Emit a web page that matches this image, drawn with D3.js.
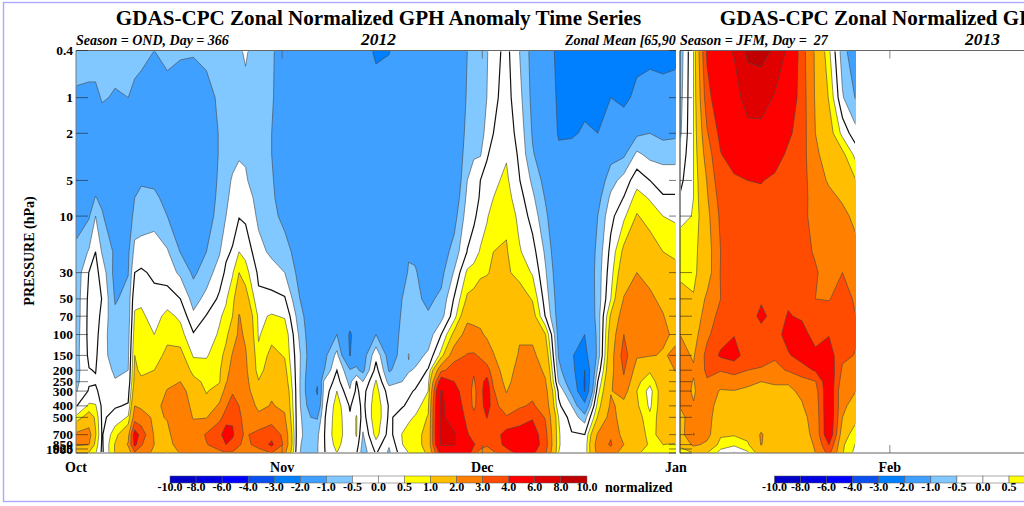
<!DOCTYPE html>
<html>
<head>
  <meta charset="utf-8">
  <script src="https://d3js.org/d3.v7.min.js"></script>
  <style>
    html, body { margin: 0; padding: 0; background: #fff; overflow: hidden; }
    svg { display: block; }
    text { font-family: "Liberation Serif", serif; font-weight: bold; fill: #000; }
  </style>
</head>
<body>
<script>
// pressure levels of each data column, bottom to top (hPa)
var pressureLevels = [1000,850,700,500,400,300,250,200,150,100,70,50,30,20,10,7,5,3,2,1,0.4];
var pressureTicks = [0.4,1,2,5,10,30,50,70,100,150,200,250,300,400,500,700,850,925,1000];

var contourLevels = [-10,-8,-6,-4,-3,-2,-1,-0.5,0,0.5,1,2,3,4,6,8,10];
var levelLabels = ["-10.0","-8.0","-6.0","-4.0","-3.0","-2.0","-1.0","-0.5","0.0","0.5","1.0","2.0","3.0","4.0","6.0","8.0","10.0"];
var bandColors = ["#0000c8","#0000e0","#0000ff","#0a50f0","#0080ff","#40a0ff","#80c8ff","#ffffff","#ffffff","#ffff00","#ffbf00","#ff8000","#ff4c00","#ff0000","#e00000","#c00000"];

// days since 1 Oct 2012
var daysOND = [0,2,3,4,6,8,9,10,12,14,16,18,20,22,23,24,25,26,28,30,32,34,36,37,38,40,42,43,44,46,48,50,51,52,54,56,58,60,61,62,63,64,66,68,70,72,74,76,78,80,82,84,86,88,90,92];
var valuesOND = [
  [1.2,2.1,2.2,0.6,-0.05,-0.55,-0.65,-0.7,-0.7,-0.75,-0.8,-0.8,-0.85,-0.9,-1.2,-1.4,-2.05,-1.6,-1.5,-1.1,-0.7],
  [0.9,2.0,2.4,1.4,0.6,0.05,-0.05,-0.02,0.1,0.15,0.15,0.12,0.02,-0.45,-1.05,-1.2,-1.3,-1.5,-1.5,-1.2,-0.6],
  [0.55,0.8,1.05,0.9,0.55,0.1,-0.05,0.02,0.1,0.2,0.25,0.25,0.15,0.0,-0.5,-0.98,-1.2,-1.45,-1.45,-1.15,-0.7],
  [-0.1,-0.08,-0.05,-0.1,-0.1,-0.2,-0.3,-0.35,-0.35,-0.3,-0.15,-0.02,-0.2,-0.55,-0.95,-1.1,-1.2,-1.4,-1.3,-0.95,-0.7],
  [1.05,1.05,0.8,0.2,-0.05,-0.4,-0.48,-0.55,-0.7,-0.8,-0.9,-1.05,-1.2,-1.1,-1.4,-1.5,-1.5,-1.5,-1.4,-1.05,-0.8],
  [1.4,2.1,1.7,0.55,0.05,-0.2,-0.4,-0.5,-0.6,-0.7,-0.8,-0.85,-1.02,-1.1,-1.4,-1.5,-1.6,-1.5,-1.4,-1.0,-0.8],
  [2.8,4.3,4.6,2.5,2.0,1.45,1.2,1.1,1.0,0.75,0.55,0.4,0.0,-0.35,-0.8,-1.0,-1.4,-1.5,-1.5,-1.1,-0.85],
  [2.5,3.1,3.6,2.4,1.85,1.4,1.1,0.9,0.98,0.8,0.6,0.4,0.08,-0.3,-0.75,-0.9,-1.05,-1.5,-1.5,-1.2,-0.85],
  [1.8,2.0,1.9,1.85,1.7,1.45,1.2,1.0,0.75,0.5,0.3,0.15,-0.1,-0.3,-0.65,-0.9,-1.1,-1.5,-1.6,-1.4,-1.0],
  [0.9,1.6,1.8,2.05,2.3,2.05,1.8,1.5,1.15,0.85,0.65,0.25,-0.25,-0.45,-1.0,-1.15,-1.3,-1.5,-1.5,-1.2,-0.85],
  [2.1,2.5,2.6,2.6,2.5,2.4,2.0,1.6,1.2,0.7,0.4,0.0,-0.6,-1.02,-1.2,-1.3,-1.4,-1.5,-1.5,-1.2,-0.95],
  [2.2,2.5,2.4,1.95,1.8,1.5,1.2,0.8,0.45,0.05,-0.4,-0.7,-1.1,-1.2,-1.35,-1.45,-1.5,-1.6,-1.6,-1.3,-0.95],
  [2.5,2.95,3.1,1.95,1.2,0.95,0.85,0.7,0.45,0.3,0.03,-0.35,-0.75,-1.0,-1.25,-1.35,-1.4,-1.45,-1.45,-1.2,-0.85],
  [2.8,3.4,3.6,2.8,2.2,1.3,0.95,0.9,0.8,0.55,0.45,0.1,-0.25,-0.55,-0.8,-0.85,-0.9,-0.95,-0.95,-0.9,-0.7],
  [2.9,4.0,4.9,3.3,2.9,2.4,1.9,1.6,1.2,0.85,0.6,0.45,0.1,-0.1,-0.5,-0.6,-0.65,-0.8,-0.85,-0.8,-0.65],
  [2.9,3.6,4.2,3.8,3.4,2.9,2.6,2.4,2.1,1.4,1.0,0.8,0.45,0.05,-0.25,-0.35,-0.45,-0.65,-0.75,-0.7,-0.6],
  [2.6,3.1,3.2,3.1,3.0,2.75,2.55,2.4,2.3,2.2,2.05,1.6,1.0,0.5,-0.03,-0.2,-0.35,-0.55,-0.7,-0.65,-0.55],
  [2.2,2.7,2.9,2.8,2.6,2.4,2.3,2.2,2.1,1.85,1.7,1.3,0.7,0.35,-0.1,-0.3,-0.45,-0.55,-0.65,-0.6,-0.45],
  [2.5,3.4,3.3,2.2,1.8,1.3,1.05,0.7,0.6,0.45,0.4,0.1,-0.1,-0.35,-0.6,-0.65,-0.75,-0.8,-0.85,-0.8,-0.7],
  [3.0,4.2,3.7,2.5,2.05,1.9,1.75,1.5,1.2,0.8,0.55,0.15,-0.3,-0.6,-0.85,-0.9,-0.95,-1.0,-1.0,-0.95,-0.95],
  [2.2,2.8,2.7,2.1,1.85,1.65,1.4,1.2,0.95,0.85,0.45,0.05,-0.5,-0.8,-1.15,-1.3,-1.3,-1.35,-1.35,-1.3,-1.2],
  [-0.4,-0.4,-0.35,-0.3,-0.3,-0.3,-0.3,-0.3,-0.3,-0.45,-0.65,-0.9,-1.1,-1.2,-1.4,-1.45,-1.5,-1.5,-1.5,-1.5,-1.4],
  [-0.95,-0.8,-0.75,-1.0,-1.3,-1.5,-1.5,-1.4,-1.3,-1.35,-1.4,-1.5,-1.6,-1.6,-1.6,-1.55,-1.5,-1.5,-1.5,-1.5,-1.45],
  [-0.55,-0.55,-0.6,-1.05,-1.7,-2.1,-1.9,-1.6,-1.5,-1.45,-1.5,-1.5,-1.6,-1.6,-1.6,-1.6,-1.55,-1.5,-1.5,-1.5,-1.5],
  [-0.05,-0.05,-0.05,-0.1,-0.2,-0.35,-0.45,-1.05,-1.2,-1.2,-1.4,-1.5,-1.6,-1.6,-1.6,-1.6,-1.6,-1.5,-1.5,-1.5,-1.45],
  [0.5,0.7,0.85,0.8,0.75,0.5,0.2,0.0,-0.35,-1.0,-1.4,-1.5,-1.6,-1.6,-1.6,-1.6,-1.6,-1.55,-1.5,-1.5,-1.5],
  [0.0,0.02,0.05,0.05,-0.05,-0.45,-0.65,-0.95,-2.05,-2.1,-1.6,-1.5,-1.55,-1.6,-1.6,-1.6,-1.6,-1.55,-1.5,-1.5,-1.5],
  [0.05,0.3,0.55,0.55,0.25,0.1,0.02,-0.9,-1.3,-1.7,-1.6,-1.55,-1.6,-1.6,-1.6,-1.6,-1.6,-1.55,-1.5,-1.5,-1.5],
  [-0.8,-0.7,-0.55,-0.25,-0.15,-0.2,-0.5,-1.15,-1.3,-1.5,-1.55,-1.55,-1.6,-1.6,-1.6,-1.6,-1.6,-1.55,-1.5,-1.5,-1.5],
  [0.05,0.3,0.7,0.9,0.85,0.7,0.55,0.2,-0.15,-1.0,-1.2,-1.35,-1.5,-1.55,-1.6,-1.6,-1.6,-1.55,-1.5,-1.5,-2.2],
  [-0.6,-0.45,-0.2,-0.1,-0.05,-0.25,-0.7,-1.05,-1.25,-1.3,-1.35,-1.4,-1.5,-1.55,-1.6,-1.6,-1.6,-1.55,-1.5,-1.5,-2.05],
  [0.3,0.48,0.52,0.25,-0.05,-0.3,-0.5,-0.8,-0.85,-0.9,-0.95,-1.0,-1.25,-1.4,-1.6,-1.6,-1.6,-1.55,-1.5,-1.5,-1.5],
  [0.5,0.7,0.7,0.4,0.1,-0.1,-0.3,-0.55,-0.48,-0.75,-0.8,-0.85,-0.95,-1.05,-1.55,-1.6,-1.6,-1.55,-1.5,-1.5,-1.5],
  [0.65,0.8,0.85,0.55,0.25,0.05,-0.2,-0.45,-0.7,-0.8,-0.85,-0.9,-0.95,-1.1,-1.5,-1.6,-1.6,-1.55,-1.5,-1.5,-1.5],
  [1.1,1.2,1.15,1.05,0.85,0.5,0.35,0.05,-0.4,-0.8,-0.95,-1.1,-1.3,-1.4,-1.5,-1.55,-1.6,-1.55,-1.5,-1.5,-1.5],
  [4.5,6.2,6.5,6.4,6.5,6.2,4.8,2.8,0.7,0.0,-0.7,-0.9,-1.15,-1.3,-1.5,-1.55,-1.6,-1.55,-1.5,-1.5,-1.5],
  [4.6,6.1,6.2,5.0,4.6,4.3,4.0,3.4,2.7,1.2,0.3,0.05,-0.45,-0.8,-1.2,-1.4,-1.55,-1.55,-1.5,-1.45,-1.4],
  [4.8,4.9,4.1,3.7,3.6,3.5,3.4,3.3,3.05,2.5,1.7,1.1,0.6,0.02,-0.25,-0.38,-0.5,-0.72,-0.85,-0.95,-1.0],
  [3.3,4.1,3.6,3.3,2.8,2.7,2.9,3.1,3.1,2.3,1.7,1.2,0.7,0.25,-0.1,-0.2,-0.3,-0.55,-0.75,-0.85,-0.9],
  [2.5,3.6,3.4,3.4,3.5,3.6,3.6,3.4,2.9,2.1,1.8,1.5,0.85,0.55,0.2,0.05,0.0,-0.55,-0.75,-0.8,-0.85],
  [2.6,3.1,3.2,4.05,4.6,4.7,4.4,3.4,2.4,1.9,1.6,1.4,0.95,0.7,0.45,0.3,0.15,-0.05,-0.3,-0.5,-0.55],
  [2.8,3.6,3.5,3.3,3.4,3.1,2.8,2.5,2.05,1.7,1.4,1.25,1.1,1.0,0.7,0.5,0.4,0.15,0.0,-0.12,-0.2],
  [3.7,4.2,4.4,3.1,2.4,1.95,1.7,1.5,1.4,1.3,1.2,1.15,1.1,1.05,0.9,0.7,0.6,0.45,0.3,0.2,0.15],
  [4.2,4.9,4.6,3.4,2.9,2.7,2.55,2.4,2.1,1.9,1.65,1.35,0.8,0.55,0.35,0.2,0.02,-0.1,-0.2,-0.35,-0.5],
  [4.2,4.7,4.6,3.9,3.1,2.8,2.6,2.4,2.2,1.8,1.3,0.95,0.45,0.2,-0.2,-0.4,-0.6,-0.95,-1.05,-1.15,-1.2],
  [3.1,3.4,3.3,2.9,2.6,2.3,2.05,1.85,1.5,1.0,-0.05,-0.25,-0.45,-0.6,-0.9,-1.05,-1.2,-1.35,-1.5,-1.6,-1.6],
  [0.5,0.55,0.55,0.5,0.1,-0.1,-0.55,-0.8,-1.05,-1.2,-1.25,-1.3,-1.4,-1.5,-1.55,-1.6,-1.7,-1.9,-2.05,-2.1,-2.2],
  [0.1,0.1,0.05,-0.25,-0.5,-1.15,-1.4,-1.7,-1.95,-1.7,-1.6,-1.6,-1.6,-1.6,-1.65,-1.7,-1.75,-1.85,-2.05,-2.2,-2.4],
  [0.15,0.1,0.0,-0.75,-1.7,-3.05,-3.1,-3.0,-2.3,-2.0,-1.7,-1.65,-1.6,-1.6,-1.6,-1.6,-1.7,-1.85,-1.95,-2.1,-2.5],
  [2.3,2.5,2.1,1.05,0.7,0.3,0.0,-0.4,-0.85,-0.85,-0.8,-0.8,-0.8,-0.85,-1.0,-1.2,-1.4,-1.6,-2.0,-2.2,-2.5],
  [2.6,3.1,2.9,2.4,2.15,1.95,1.85,1.7,1.6,1.4,1.1,0.5,0.3,0.15,-0.15,-0.4,-0.7,-1.2,-1.55,-2.0,-2.4],
  [1.4,2.0,1.6,1.5,1.7,2.4,2.85,3.1,3.4,3.0,2.5,2.05,1.5,1.15,0.4,0.02,-0.3,-1.1,-1.6,-2.15,-2.3],
  [1.1,1.7,1.5,1.3,1.1,1.0,1.15,1.6,2.1,2.5,2.4,2.3,2.0,1.7,1.05,0.7,0.3,-0.4,-1.1,-1.85,-2.2],
  [0.7,0.85,0.75,0.6,0.4,0.3,0.65,1.1,2.05,2.5,2.4,2.15,1.75,1.35,0.75,0.45,0.0,-0.65,-1.0,-1.7,-2.2],
  [0.8,1.0,1.3,1.4,1.4,1.4,1.5,1.6,1.95,2.1,2.05,1.8,1.2,1.0,0.5,0.05,-0.2,-0.7,-1.15,-1.8,-2.2],
  [0.6,0.95,1.3,1.4,1.5,1.6,1.8,2.05,2.1,1.9,1.5,1.4,1.15,0.9,0.4,0.05,-0.2,-0.7,-1.1,-1.7,-2.2]
];

// days since 1 Jan 2013
var daysJFM = [0,2,4,6,8,10,12,14,16,18,20,22,24,26];
var valuesJFM = [
  [0.8,1.1,1.5,1.7,2.05,2.4,2.5,2.4,2.3,2.0,1.5,1.2,0.9,0.7,0.4,0.05,-0.15,-0.4,-0.6,-0.7,-0.8],
  [1.0,2.2,3.05,2.5,2.05,1.9,1.95,2.1,1.9,1.6,1.3,1.05,0.85,0.8,0.52,0.5,0.5,0.5,0.5,0.5,0.5],
  [1.0,1.8,2.3,2.35,2.4,2.6,2.9,3.2,3.3,2.8,2.5,2.2,1.5,1.5,1.7,1.9,2.05,2.5,2.9,3.6,4.2],
  [0.3,0.75,1.1,1.4,1.6,1.9,2.5,3.05,4.15,3.6,3.3,3.0,3.05,3.0,3.2,3.4,3.7,3.95,4.3,4.9,5.6],
  [-0.05,0.6,1.05,1.4,1.6,1.95,2.7,3.2,4.5,3.95,3.8,3.6,3.5,3.5,3.6,3.7,3.8,4.6,5.0,5.5,6.1],
  [0.4,0.9,1.2,1.4,1.5,1.75,2.3,3.0,3.4,3.6,3.6,3.6,3.6,3.6,3.7,3.8,4.0,5.0,5.6,6.5,8.5],
  [1.4,2.05,2.1,1.4,1.4,1.6,2.0,2.95,3.2,3.7,4.2,3.9,3.8,3.7,3.7,3.8,4.05,4.7,5.4,6.9,8.6],
  [1.1,1.2,1.3,1.4,1.5,1.8,2.1,2.7,3.15,3.6,3.7,3.6,3.6,3.6,3.65,3.7,3.8,4.5,5.2,5.8,7.7],
  [1.1,1.15,1.3,1.5,1.6,1.9,2.05,3.1,3.9,4.4,4.05,3.9,3.7,3.6,3.6,3.6,3.65,3.8,4.2,4.9,5.6],
  [1.4,1.5,1.7,1.8,1.95,2.1,2.6,3.6,4.4,4.3,3.9,3.6,3.4,3.3,3.3,3.4,3.4,3.4,3.5,3.5,3.4],
  [2.0,2.1,2.2,2.3,2.4,2.6,2.95,4.1,4.2,3.7,3.4,3.0,3.1,2.9,2.6,2.5,2.4,2.2,2.0,1.9,1.85],
  [3.3,4.0,5.0,5.0,5.0,4.9,4.9,4.8,4.5,3.95,3.4,2.95,2.6,2.5,2.4,2.2,1.9,1.5,1.3,0.95,0.6],
  [1.05,1.1,1.4,2.0,2.15,2.2,2.5,2.85,3.2,3.5,3.6,3.4,3.0,2.5,2.2,1.9,1.6,1.15,0.35,-0.45,-0.75],
  [0.3,0.45,0.6,1.2,1.7,2.0,2.1,2.3,2.95,3.1,3.0,2.85,2.5,2.2,1.8,1.4,1.0,0.3,-0.35,-1.05,-1.5]
];

var monthLabelsOND = ["Oct","Nov","Dec","Jan"];
var monthDaysOND = [0,31.6,62.3,92];
var monthLabelsJFM = ["Feb"];
var monthDaysJFM = [31];

var width = 1024, height = 506;
var yTop = 50.5, yBottom = 453;

var svg = d3.select("body").append("svg")
    .attr("width", width)
    .attr("height", height);

// outer border of the original plot
svg.append("rect")
    .attr("x", 3.5).attr("y", 2.5)
    .attr("width", 1040).attr("height", 499)
    .attr("fill", "#fff")
    .attr("stroke", "#aaaaff")
    .attr("stroke-width", 1.4);

var y = d3.scaleLog().domain([1000, 0.4]).range([yBottom, yTop]);

function drawPanel(name, days, columns, x, frameRight) {
  var nx = days.length, ny = pressureLevels.length;
  var flat = [];
  for (var j = 0; j < ny; j++) {
    for (var i = 0; i < nx; i++) flat.push(columns[i][j]);
  }

  // grid index -> pixel, the grid is not even in either direction
  function gridX(c) {
    var p = Math.max(0, Math.min(nx - 1, c - 0.5)), k = Math.min(nx - 2, Math.floor(p));
    return x(days[k] + (days[k + 1] - days[k]) * (p - k));
  }
  function gridY(c) {
    var p = Math.max(0, Math.min(ny - 1, c - 0.5)), k = Math.min(ny - 2, Math.floor(p));
    return y(pressureLevels[k]) + (y(pressureLevels[k + 1]) - y(pressureLevels[k])) * (p - k);
  }
  var path = d3.geoPath(d3.geoTransform({
    point: function(a, b) { this.stream.point(gridX(a), gridY(b)); }
  }));

  var contours = d3.contours().size([nx, ny]).thresholds(contourLevels.slice(0, -1))(flat);

  var x0 = x.range()[0], x1 = x.range()[1];
  svg.append("clipPath").attr("id", "lines-" + name)
    .append("rect").attr("x", x0 + 1).attr("y", yTop + 1)
    .attr("width", x1 - x0 - 2).attr("height", yBottom - yTop - 2);

  var g = svg.append("g");
  g.selectAll("path.band").data(contours).enter().append("path")
      .attr("class", "band")
      .attr("d", path)
      .attr("fill", function(d, i) { return bandColors[i]; });

  g.append("g").attr("clip-path", "url(#lines-" + name + ")")
    .selectAll("path").data(contours).enter().append("path")
      .attr("d", path)
      .attr("fill", "none")
      .attr("stroke", function(d) { return d.value === 0 ? "#111" : "#444"; })
      .attr("stroke-width", function(d) { return d.value === 0 ? 1.2 : 0.6; });

  // frame and ticks
  svg.append("path")
      .attr("d", "M" + x0 + "," + yTop + "H" + frameRight + "M" + x0 + "," + yBottom + "H" + frameRight)
      .attr("stroke", "#666").attr("stroke-width", 1.1).attr("fill", "none");
  svg.append("line")
      .attr("x1", x0).attr("x2", x0).attr("y1", yTop).attr("y2", yBottom)
      .attr("stroke", name === "jfm" ? "#222" : "#777").attr("stroke-width", 1);

  svg.append("g").selectAll("line").data(pressureTicks).enter().append("line")
      .attr("x1", x0).attr("x2", x0 + 12)
      .attr("y1", function(d) { return y(d); })
      .attr("y2", function(d) { return y(d); })
      .attr("stroke", "#222").attr("stroke-width", 0.6);
}

var xOND = d3.scaleLinear().domain([0, 92]).range([76, 676]);
var xJFM = d3.scaleLinear().domain([0, 26]).range([680, 856]);

drawPanel("ond", daysOND, valuesOND, xOND, 676);
drawPanel("jfm", daysJFM, valuesJFM, xJFM, 1024);

// right hand ticks of first panel
svg.append("g").selectAll("line").data(pressureTicks).enter().append("line")
    .attr("x1", 669).attr("x2", 676)
    .attr("y1", function(d) { return y(d); })
    .attr("y2", function(d) { return y(d); })
    .attr("stroke", "#222").attr("stroke-width", 0.6);

// month ticks on top and bottom
function monthTicks(days, x) {
  svg.append("g").selectAll("path").data(days).enter().append("path")
      .attr("d", function(d) {
        var px = x(d);
        return "M" + px + "," + yTop + "V" + (yTop + 8) + "M" + px + "," + yBottom + "V" + (yBottom - 8);
      })
      .attr("stroke", "#555").attr("stroke-width", 0.7);
}
monthTicks(monthDaysOND.slice(1, 3), xOND);
monthTicks(monthDaysJFM, xJFM);

// pressure labels, the lowest ones pile up on the axis end like the original
svg.append("g").selectAll("text").data(pressureTicks).enter().append("text")
    .attr("x", 73)
    .attr("y", function(d) { return Math.min(y(d) + 4.5, 454); })
    .attr("text-anchor", "end")
    .attr("font-size", 13.5)
    .text(function(d) { return d; });

svg.append("text")
    .attr("transform", "translate(34,251) rotate(-90)")
    .attr("text-anchor", "middle")
    .attr("font-size", 14)
    .text("PRESSURE (hPa)");

// month labels
function monthLabels(labels, days, x) {
  svg.append("g").selectAll("text").data(labels).enter().append("text")
      .attr("x", function(d, i) { return x(days[i]); })
      .attr("y", 471.5)
      .attr("text-anchor", "middle")
      .attr("font-size", 14)
      .text(function(d) { return d; });
}
monthLabels(monthLabelsOND, monthDaysOND, xOND);
monthLabels(monthLabelsJFM, monthDaysJFM, xJFM);

// titles
function titles(cx, x0, season, year) {
  svg.append("text").attr("x", cx).attr("y", 25)
      .attr("text-anchor", "middle").attr("font-size", 21.1)
      .text("GDAS-CPC Zonal Normalized GPH Anomaly Time Series");
  svg.append("text").attr("x", x0).attr("y", 45)
      .attr("font-size", 14).attr("font-style", "italic")
      .style("white-space", "pre")
      .text(season);
  svg.append("text").attr("x", cx).attr("y", 45)
      .attr("text-anchor", "middle").attr("font-size", 17.5).attr("font-style", "italic")
      .text(year);
}
titles(378.5, 76, "Season = OND, Day = 366", "2012");
svg.append("text").attr("x", 565).attr("y", 45)
    .attr("font-size", 14).attr("font-style", "italic")
    .text("Zonal Mean [65,90");
titles(982.5, 680, "Season = JFM, Day =  27", "2013");

// colour bars
function colorBar(x0) {
  var w = 26.06;
  var g = svg.append("g");
  g.selectAll("rect").data(bandColors).enter().append("rect")
      .attr("x", function(d, i) { return x0 + i * w; })
      .attr("y", 476)
      .attr("width", w)
      .attr("height", 7)
      .attr("fill", function(d) { return d; })
      .attr("stroke", "#555")
      .attr("stroke-width", 0.5);
  g.selectAll("text").data(levelLabels).enter().append("text")
      .attr("x", function(d, i) { return x0 + i * w; })
      .attr("y", 491)
      .attr("text-anchor", "middle")
      .attr("font-size", 12)
      .text(function(d) { return d; });
}
colorBar(170);
colorBar(774.5);

svg.append("text").attr("x", 605).attr("y", 492)
    .attr("font-size", 14)
    .text("normalized");
</script>
</body>
</html>
